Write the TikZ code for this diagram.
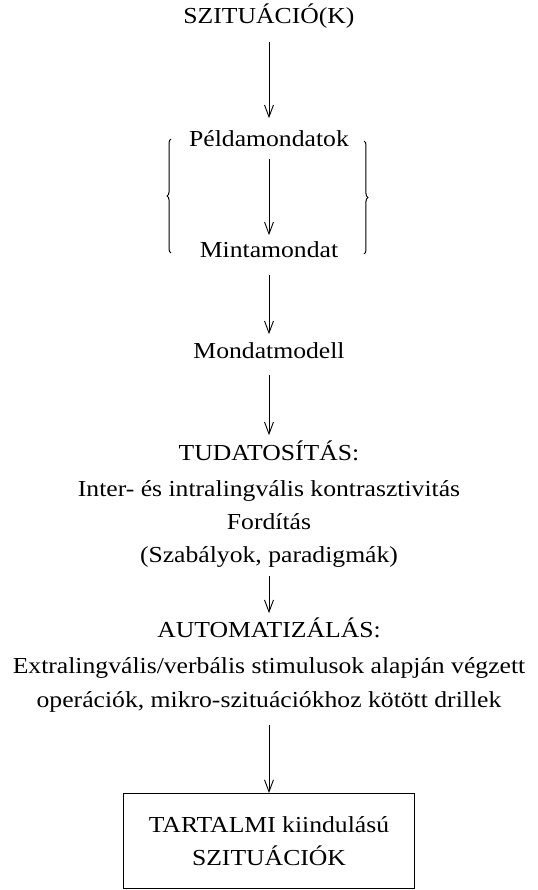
\documentclass[tikz,border=0pt]{standalone}
\usepackage{fontspec}
\setmainfont{Liberation Serif}[FakeStretch=1.12]
\usetikzlibrary{arrows.meta,decorations.pathreplacing}

\begin{document}
\begin{tikzpicture}[x=0.5bp,y=-0.5bp,font=\fontsize{11.5}{13}\selectfont,
  txt/.style={inner sep=0pt,text height=8pt,text depth=2.5pt},
  nyil/.style={-{Straight Barb[length=6pt,width=4.5pt]},line width=0.45pt},
  kapocs/.style={decorate,decoration={brace,amplitude=2pt},line width=0.5pt}]
\useasboundingbox (0,0) rectangle (538,890);
% felso resz
\node[txt] (sit) at (269,18) {SZITUÁCIÓ(K)};
\node[txt] (pelda) at (269,141) {Példamondatok};
\node[txt] (minta) at (269,252) {Mintamondat};
\node[txt] (modell) at (269,353) {Mondatmodell};
\draw[nyil,shorten <=6.5pt,shorten >=6pt] (sit) -- (pelda);
\draw[nyil,shorten <=3.5pt,shorten >=3pt] (pelda) -- (minta);
\draw[nyil,shorten <=6pt,shorten >=4pt] (minta) -- (modell);
\draw[kapocs] (171,253) -- (171,139);
\draw[kapocs] (364,141) -- (364,254);
% tudatositas
\node[txt] (tud) at (269,455) {TUDATOSÍTÁS:};
\node[txt] (kontr) at (269,491) {Inter- és intralingvális kontrasztivitás};
\node[txt] (ford) at (269,524) {Fordítás};
\node[txt] (szab) at (269,557) {(Szabályok, paradigmák)};
\draw[nyil,shorten <=5.5pt,shorten >=4.5pt] (modell) -- (tud);
% automatizalas
\node[txt] (auto) at (269,632) {AUTOMATIZÁLÁS:};
\node[txt] (extra) at (269,668) {Extralingvális/verbális stimulusok alapján végzett};
\node[txt] (oper) at (269,702) {operációk, mikro-szituációkhoz kötött drillek};
\draw[nyil,shorten <=4pt,shorten >=4pt] (szab) -- (auto);
% cel
\node[draw,line width=0.5pt,minimum width=145bp,minimum height=47.5bp,align=center,
  font=\fontsize{11.5}{16.5}\selectfont] (cel) at (269,841) {TARTALMI kiindulású\\SZITUÁCIÓK};
\draw[nyil,shorten <=6pt] (oper) -- (cel);
\end{tikzpicture}
\end{document}
